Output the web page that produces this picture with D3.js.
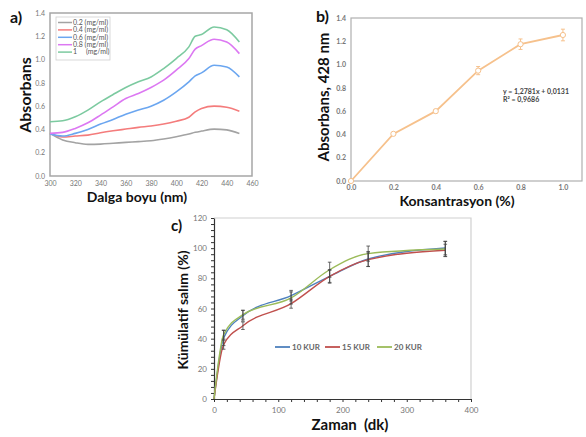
<!DOCTYPE html>
<html>
<head>
<meta charset="utf-8">
<script src="https://cdn.jsdelivr.net/npm/d3@7"></script>
<style>
body { margin: 0; background: #fff; }
text { font-family: Lato, "Open Sans", sans-serif; }
.tick text { fill: #777; }
.title { font-weight: bold; fill: #111; }
</style>
</head>
<body>
<div id="chart"></div>
<script>
// panel a: UV-vis spectra
const wavelengths = [300,310,320,330,340,350,360,370,380,390,400,410,415,420,430,440,450];
const spec02 = [.366,.31,.286,.272,.274,.281,.289,.295,.303,.318,.337,.36,.375,.386,.403,.396,.366];
const spec04 = [.366,.335,.343,.351,.371,.388,.403,.418,.429,.446,.471,.505,.55,.58,.6,.59,.557];
const spec06 = [.36,.343,.366,.4,.446,.486,.531,.566,.6,.651,.723,.809,.86,.886,.951,.937,.851];
const spec08 = [.366,.375,.409,.457,.523,.594,.666,.709,.76,.823,.909,1.009,1.09,1.12,1.174,1.151,1.051];
const spec10 = [.466,.474,.509,.566,.637,.7,.76,.809,.851,.923,1.009,1.109,1.2,1.215,1.28,1.257,1.151];
const specLabels = ["0.2 (mg/ml)","0.4 (mg/ml)","0.6 (mg/ml)","0.8 (mg/ml)","1     (mg/ml)"];

// panel b: calibration
const conc = [0,0.2,0.4,0.6,0.8,1.0];
const absorb = [0,0.405,0.6,0.948,1.175,1.254];
const absorbErr = [0,0.01,0.015,0.035,0.045,0.05];

// panel c: release
const times = [0,15,45,120,180,240,360];
const kur10 = [0,40.4,55.2,68.5,81.3,92.8,100.1];
const kur15 = [0,36,48.6,63.2,81.3,92.4,98.6];
const kur20 = [0,42.7,55.9,67,85.7,96.4,99.4];
const kur10Err = [0,5,3.5,3.5,4.5,5,4.5];
const kur15Err = [0,3,2.5,3,4,4.5,4];
const kur20Err = [0,3,3,4,5,5,5];
const kurLabels = ["10 KUR","15 KUR","20 KUR"];

const width = 586, height = 437;

let svg = d3.select("#chart").append("svg")
  .attr("width", width)
  .attr("height", height);

// ---------- a) ----------
let xA = d3.scaleLinear().domain([300,460]).range([50,252]);
let yA = d3.scaleLinear().domain([0,1.4]).range([176,13]);

let gA = svg.append("g");

gA.append("rect")
  .attr("x", xA(300)).attr("y", yA(1.4))
  .attr("width", xA(460)-xA(300)).attr("height", yA(0)-yA(1.4))
  .attr("fill","none").attr("stroke","#a6a6a6").attr("stroke-width",1.5);

gA.append("g")
  .attr("transform", `translate(0,${yA(0)})`)
  .call(d3.axisBottom(xA).tickValues(d3.range(300,461,20)).tickSize(0).tickPadding(5))
  .call(g => g.select(".domain").remove())
  .selectAll("text").style("font-size","7px");

gA.append("g")
  .attr("transform", `translate(${xA(300)},0)`)
  .call(d3.axisLeft(yA).tickValues(d3.range(0,1.41,0.2)).tickFormat(d3.format(".1f")).tickSize(0).tickPadding(5))
  .call(g => g.select(".domain").remove())
  .selectAll("text").style("font-size","7px");

const specColors = ["#a3a3a3","#f47c7c","#6ba6f0","#dc78f2","#7ccaa0"];
const specData = [spec02,spec04,spec06,spec08,spec10];

let lineA = d3.line()
  .x((d,i) => xA(wavelengths[i]))
  .y(d => yA(d))
  .curve(d3.curveMonotoneX);

gA.selectAll("path.spec")
  .data(specData)
  .join("path")
  .attr("class","spec")
  .attr("d", lineA)
  .attr("fill","none")
  .attr("stroke",(d,i) => specColors[i])
  .attr("stroke-width",1.6);

let legA = gA.append("g");
legA.append("rect")
  .attr("x",56).attr("y",17).attr("width",54).attr("height",43)
  .attr("fill","#fff").attr("stroke","#cfcfcf").attr("stroke-width",0.8);
specLabels.forEach((lab,i) => {
  let yy = 22.5 + i*7.4;
  legA.append("line").attr("x1",58).attr("x2",72).attr("y1",yy).attr("y2",yy)
    .attr("stroke",specColors[i]).attr("stroke-width",1.5);
  legA.append("text").attr("x",73).attr("y",yy+2.3)
    .style("font-size","7px").style("fill","#555").style("white-space","pre").text(lab);
});

gA.append("text").attr("class","title")
  .attr("transform","translate(31,95) rotate(-90)")
  .attr("text-anchor","middle").style("font-size","16px").text("Absorbans");
gA.append("text").attr("class","title")
  .attr("x",137).attr("y",202)
  .attr("text-anchor","middle").style("font-size","14px").text("Dalga boyu (nm)");
gA.append("text").attr("class","title")
  .attr("x",10).attr("y",23).style("font-size","16px").text("a)");

// ---------- b) ----------
let xB = d3.scaleLinear().domain([0,1.09]).range([351,582]);
let yB = d3.scaleLinear().domain([0,1.4]).range([181,18]);

let gB = svg.append("g");

gB.append("rect")
  .attr("x", xB(0)).attr("y", yB(1.4))
  .attr("width", xB(1.09)-xB(0)).attr("height", yB(0)-yB(1.4))
  .attr("fill","none").attr("stroke","#b0b0b0").attr("stroke-width",1.2);

gB.append("g")
  .attr("transform", `translate(0,${yB(0)})`)
  .call(d3.axisBottom(xB).tickValues(d3.range(0,1.01,0.2)).tickFormat(d3.format(".1f")).tickSize(0).tickPadding(4))
  .call(g => g.select(".domain").remove())
  .selectAll("text").style("font-size","7px").style("font-weight","bold");

gB.append("g")
  .attr("transform", `translate(${xB(0)},0)`)
  .call(d3.axisLeft(yB).tickValues(d3.range(0,1.41,0.2)).tickFormat(d3.format(".1f")).tickSize(0).tickPadding(5))
  .call(g => g.select(".domain").remove())
  .selectAll("text").style("font-size","7px").style("font-weight","bold");

const orange = "#f6c18c";
let lineB = d3.line()
  .x((d,i) => xB(conc[i]))
  .y(d => yB(d));

gB.append("path")
  .datum(absorb)
  .attr("d", lineB)
  .attr("fill","none")
  .attr("stroke",orange)
  .attr("stroke-width",1.8);

conc.forEach((c,i) => {
  if (absorbErr[i] > 0) {
    let x = xB(c), y1 = yB(absorb[i]-absorbErr[i]), y2 = yB(absorb[i]+absorbErr[i]);
    gB.append("line").attr("x1",x).attr("x2",x).attr("y1",y1).attr("y2",y2)
      .attr("stroke",orange).attr("stroke-width",1);
    [y1,y2].forEach(yy => gB.append("line").attr("x1",x-2).attr("x2",x+2).attr("y1",yy).attr("y2",yy)
      .attr("stroke",orange).attr("stroke-width",1));
  }
});

gB.selectAll("circle")
  .data(absorb)
  .join("circle")
  .attr("cx",(d,i) => xB(conc[i]))
  .attr("cy", d => yB(d))
  .attr("r",2.6)
  .attr("fill","#fff")
  .attr("stroke",orange)
  .attr("stroke-width",1);

gB.append("text").attr("x",503).attr("y",94)
  .style("font-size","7px").style("font-weight","bold").style("fill","#444")
  .text("y = 1,2781x + 0,0131");
gB.append("text").attr("x",503).attr("y",102)
  .style("font-size","7px").style("font-weight","bold").style("fill","#444")
  .text("R² = 0,9686");

gB.append("text").attr("class","title")
  .attr("transform","translate(329,97) rotate(-90)")
  .attr("text-anchor","middle").style("font-size","15px").text("Absorbans, 428 nm");
gB.append("text").attr("class","title")
  .attr("x",457).attr("y",206)
  .attr("text-anchor","middle").style("font-size","14px").text("Konsantrasyon (%)");
gB.append("text").attr("class","title")
  .attr("x",316).attr("y",22).style("font-size","16px").text("b)");

// ---------- c) ----------
let xC = d3.scaleLinear().domain([0,400]).range([214,471]);
let yC = d3.scaleLinear().domain([0,120]).range([399,218]);

let gC = svg.append("g");

gC.append("path")
  .attr("d", `M${xC(0)},${yC(120)}H${xC(400)}V${yC(0)}`)
  .attr("fill","none").attr("stroke","#d0d0d0").attr("stroke-width",1.2);

// minor ticks
gC.append("g")
  .attr("transform", `translate(0,${yC(0)})`)
  .call(d3.axisBottom(xC).tickValues(d3.range(0,401,20)).tickFormat("").tickSizeInner(3).tickSizeOuter(0))
  .call(g => g.selectAll("line").attr("stroke","#333"))
  .call(g => g.select(".domain").attr("stroke","#333").attr("stroke-width",1.2));

gC.append("g")
  .attr("transform", `translate(0,${yC(0)})`)
  .call(d3.axisBottom(xC).tickValues(d3.range(0,401,100)).tickSize(0).tickPadding(8))
  .call(g => g.select(".domain").remove())
  .selectAll("text").style("font-size","8px");

gC.append("g")
  .attr("transform", `translate(${xC(0)},0)`)
  .call(d3.axisLeft(yC).tickValues(d3.range(0,121,4)).tickFormat("").tickSizeInner(3).tickSizeOuter(0))
  .call(g => g.selectAll("line").attr("stroke","#333"))
  .call(g => g.select(".domain").attr("stroke","#333").attr("stroke-width",1.2));

gC.append("g")
  .attr("transform", `translate(${xC(0)},0)`)
  .call(d3.axisLeft(yC).tickValues(d3.range(0,121,20)).tickSize(0).tickPadding(7))
  .call(g => g.select(".domain").remove())
  .selectAll("text").style("font-size","8px");

const kurColors = ["#4f81bd","#c0504d","#9bbb59"];
const kurData = [kur10,kur15,kur20];
const kurErrs = [kur10Err,kur15Err,kur20Err];

let lineC = d3.line()
  .x((d,i) => xC(times[i]))
  .y(d => yC(d))
  .curve(d3.curveMonotoneX);

gC.selectAll("path.kur")
  .data(kurData)
  .join("path")
  .attr("class","kur")
  .attr("d", lineC)
  .attr("fill","none")
  .attr("stroke",(d,i) => kurColors[i])
  .attr("stroke-width",1.4);

kurData.forEach((ser,k) => {
  ser.forEach((v,i) => {
    let e = kurErrs[k][i];
    if (e <= 0) return;
    let x = xC(times[i]), y1 = yC(v-e), y2 = yC(v+e);
    gC.append("line").attr("x1",x).attr("x2",x).attr("y1",y1).attr("y2",y2)
      .attr("stroke","#444").attr("stroke-width",0.8);
    [y1,y2].forEach(yy => gC.append("line").attr("x1",x-1.8).attr("x2",x+1.8).attr("y1",yy).attr("y2",yy)
      .attr("stroke","#444").attr("stroke-width",0.8));
  });
});

const legX = [275,325,377];
kurLabels.forEach((lab,i) => {
  gC.append("line").attr("x1",legX[i]).attr("x2",legX[i]+15).attr("y1",347).attr("y2",347)
    .attr("stroke",kurColors[i]).attr("stroke-width",1.8);
  gC.append("text").attr("x",legX[i]+17).attr("y",350)
    .style("font-size","8px").style("font-weight","bold").style("fill","#666").text(lab);
});

gC.append("text").attr("class","title")
  .attr("transform","translate(188,310) rotate(-90)")
  .attr("text-anchor","middle").style("font-size","14px").text("Kümülatif salım (%)");
gC.append("text").attr("class","title")
  .attr("x",350).attr("y",430)
  .attr("text-anchor","middle").style("font-size","15px").style("white-space","pre").text("Zaman  (dk)");
gC.append("text").attr("class","title")
  .attr("x",171).attr("y",231).style("font-size","15px").text("c)");
</script>
</body>
</html>
